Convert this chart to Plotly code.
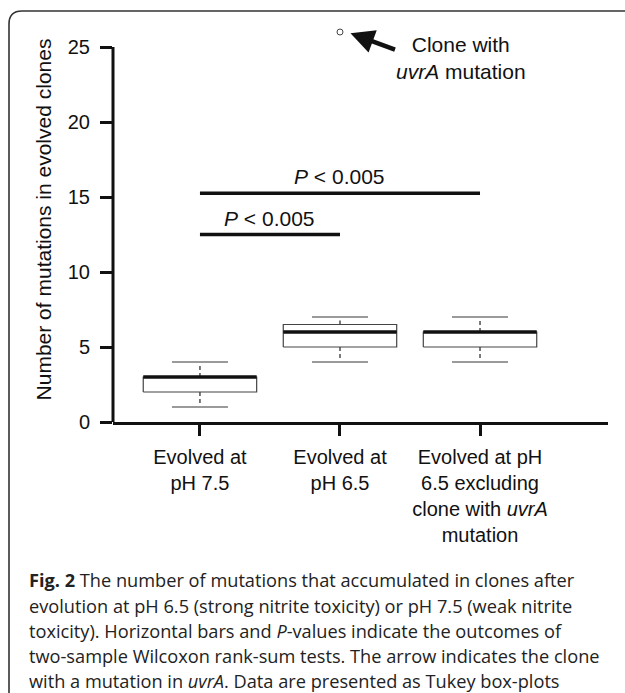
import plotly.graph_objects as go

# ---------------- data ----------------
categories = [
    "Evolved at<br>pH 7.5",
    "Evolved at<br>pH 6.5",
    "Evolved at pH<br>6.5 excluding<br>clone with <i>uvrA</i><br>mutation",
]
q1 = [2, 5, 5]
median = [3, 6, 6]
q3 = [3, 6.5, 6]
lower_whisker = [1, 4, 4]
upper_whisker = [4, 7, 7]
outlier_group = [1]
outlier_value = [26]
sig_from = [0, 0]
sig_to = [1, 2]
sig_height = [12.5, 15.25]
sig_label = ["<i>P</i> < 0.005", "<i>P</i> < 0.005"]
y_ticks = [0, 5, 10, 15, 20, 25]
y_axis_max = 25
caption_lines = [
    "<b>Fig. 2</b> The number of mutations that accumulated in clones after",
    "evolution at pH 6.5 (strong nitrite toxicity) or pH 7.5 (weak nitrite",
    "toxicity). Horizontal bars and <i>P</i>-values indicate the outcomes of",
    "two-sample Wilcoxon rank-sum tests. The arrow indicates the clone",
    "with a mutation in <i>uvrA</i>. Data are presented as Tukey box-plots",
]

# ---------------- layout geometry ----------------
W, H = 625, 693
L, R, T, B = 113, 17, 17, 271
PW, PH = W - L - R, H - T - B

def px(X):
    return (X - L) / PW

def py(Y):
    return (H - B - Y) / PH

BOX_HALF = 0.405
CAP_HALF = 0.2
FONT = "Liberation Sans, Arial, sans-serif"
FS = 20

fig = go.Figure()

for i in range(len(categories)):
    # whiskers (dashed)
    fig.add_trace(go.Scatter(
        x=[i, i, None, i, i],
        y=[q1[i], lower_whisker[i], None, q3[i], upper_whisker[i]],
        mode="lines", line=dict(color="#222", width=1.2, dash="4px,3px"),
        hoverinfo="skip", showlegend=False))
    # caps
    fig.add_trace(go.Scatter(
        x=[i - CAP_HALF, i + CAP_HALF, None, i - CAP_HALF, i + CAP_HALF],
        y=[lower_whisker[i], lower_whisker[i], None, upper_whisker[i], upper_whisker[i]],
        mode="lines", line=dict(color="#9a9a9a", width=2),
        hoverinfo="skip", showlegend=False))
    # box
    fig.add_trace(go.Scatter(
        x=[i - BOX_HALF, i + BOX_HALF, i + BOX_HALF, i - BOX_HALF, i - BOX_HALF],
        y=[q1[i], q1[i], q3[i], q3[i], q1[i]],
        mode="lines", fill="toself", fillcolor="white",
        line=dict(color="#444", width=1.2),
        hoverinfo="skip", showlegend=False))
    # median
    fig.add_trace(go.Scatter(
        x=[i - BOX_HALF, i + BOX_HALF], y=[median[i], median[i]],
        mode="lines", line=dict(color="#111", width=3.5),
        hoverinfo="skip", showlegend=False))

# outlier
fig.add_trace(go.Scatter(
    x=outlier_group, y=outlier_value, mode="markers",
    marker=dict(symbol="circle-open", size=6, color="#444", line=dict(width=1)),
    cliponaxis=False, hoverinfo="skip", showlegend=False))

# significance bars
for a, b, h, lab in zip(sig_from, sig_to, sig_height, sig_label):
    fig.add_trace(go.Scatter(
        x=[a, b], y=[h, h], mode="lines",
        line=dict(color="#111", width=3.5),
        hoverinfo="skip", showlegend=False))
    fig.add_annotation(
        x=(a + b) / 2, y=h, xref="x", yref="y", text=lab, showarrow=False,
        yanchor="bottom", yshift=3,
        font=dict(family=FONT, size=21, color="#111"))

# arrow to outlier
fig.add_annotation(
    x=outlier_group[0] + 0.075, y=outlier_value[0] - 0.08, xref="x", yref="y",
    text="", showarrow=True, ax=46, ay=17, axref="pixel", ayref="pixel",
    arrowhead=2, arrowsize=1.05, arrowwidth=4.5, arrowcolor="#111")
fig.add_annotation(
    x=px(461), y=py(58), xref="paper", yref="paper",
    text="Clone with<br><i>uvrA</i> mutation", showarrow=False,
    xanchor="center", yanchor="middle", align="center",
    font=dict(family=FONT, size=21, color="#111"))

# y axis line only up to the last tick
fig.add_shape(type="line", xref="paper", yref="y", x0=0, x1=0,
              y0=0, y1=y_axis_max, line=dict(color="#111", width=3))

# caption
cap_y = [580, 605.5, 631, 656, 680.5]
for line, yy in zip(caption_lines, cap_y):
    fig.add_annotation(
        x=px(27), y=py(yy), xref="paper", yref="paper", text=line,
        showarrow=False, xanchor="left", yanchor="middle", align="left",
        font=dict(family="Open Sans, sans-serif", size=18.2, color="#222"))

# frame with rounded corner
r = 13
fl, ft = 9, 11
path = (f"M {px(fl)},{py(H + 10)} L {px(fl)},{py(ft + r)} "
        f"Q {px(fl)},{py(ft)} {px(fl + r)},{py(ft)} L {px(W + 10)},{py(ft)}")
fig.add_shape(type="path", path=path, xref="paper", yref="paper",
              line=dict(color="#333", width=1.6))

fig.update_layout(
    width=W, height=H, autosize=False,
    margin=dict(l=L, r=R, t=T, b=B),
    paper_bgcolor="white", plot_bgcolor="white",
    showlegend=False,
    xaxis=dict(
        range=[-0.621, 2.914], tickmode="array",
        tickvals=list(range(len(categories))), ticktext=categories,
        showline=True, linecolor="#111", linewidth=3,
        ticks="outside", ticklen=11, tickwidth=3, tickcolor="#111",
        showgrid=False, zeroline=False,
        ticklabelstandoff=4,
        tickfont=dict(family=FONT, size=FS, color="#111"),
    ),
    yaxis=dict(
        range=[0, 27], tickmode="array", tickvals=y_ticks,
        showline=False,
        ticks="outside", ticklen=12, tickwidth=3, tickcolor="#111",
        showgrid=False, zeroline=False,
        ticklabelstandoff=6,
        tickfont=dict(family=FONT, size=FS, color="#111"),
        title=dict(text="Number of mutations in evolved clones",
                   font=dict(family=FONT, size=21, color="#111"),
                   standoff=10),
    ),
)

fig.write_html("out.html")
